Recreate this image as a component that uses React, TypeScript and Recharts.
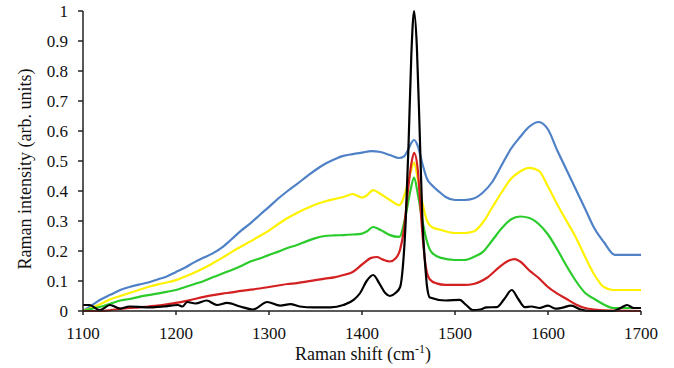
import React from "react";
import { LineChart, Line, XAxis, YAxis } from "recharts";

// [Raman shift, intensity] pairs per spectrum
const blue: [number, number][] = [
  [1100, 0], [1110, 0.02], [1120, 0.04], [1130, 0.055], [1140, 0.07], [1150, 0.08], [1160, 0.088],
  [1170, 0.095], [1180, 0.105], [1190, 0.115], [1200, 0.13], [1210, 0.145], [1220, 0.163], [1230, 0.178],
  [1240, 0.193], [1250, 0.213], [1260, 0.24], [1270, 0.268], [1280, 0.292], [1290, 0.32], [1300, 0.347],
  [1310, 0.375], [1320, 0.4], [1330, 0.423], [1340, 0.447], [1350, 0.47], [1360, 0.49], [1370, 0.505],
  [1380, 0.517], [1390, 0.523], [1400, 0.528], [1410, 0.533], [1420, 0.53], [1430, 0.52], [1440, 0.51],
  [1445, 0.515], [1450, 0.54], [1453, 0.56], [1456, 0.57], [1460, 0.55], [1465, 0.49], [1470, 0.44],
  [1475, 0.42], [1484, 0.395], [1490, 0.38], [1500, 0.37], [1510, 0.37], [1520, 0.375], [1530, 0.395],
  [1540, 0.43], [1550, 0.485], [1560, 0.54], [1570, 0.58], [1580, 0.615], [1590, 0.63], [1600, 0.605],
  [1610, 0.535], [1620, 0.47], [1630, 0.405], [1640, 0.34], [1650, 0.275], [1660, 0.23], [1672, 0.187],
  [1685, 0.187], [1700, 0.187],
];

const yellow: [number, number][] = [
  [1100, 0], [1110, 0.012], [1120, 0.025], [1130, 0.04], [1140, 0.05], [1150, 0.06], [1160, 0.07],
  [1170, 0.08], [1180, 0.088], [1190, 0.095], [1200, 0.103], [1210, 0.115], [1220, 0.128], [1230, 0.143],
  [1240, 0.16], [1250, 0.178], [1260, 0.197], [1270, 0.215], [1280, 0.232], [1290, 0.25], [1300, 0.268],
  [1310, 0.29], [1320, 0.31], [1330, 0.327], [1340, 0.342], [1350, 0.355], [1360, 0.365], [1370, 0.373],
  [1380, 0.38], [1390, 0.39], [1400, 0.378], [1405, 0.385], [1412, 0.403], [1420, 0.39], [1430, 0.37],
  [1440, 0.353], [1447, 0.4], [1452, 0.46], [1456, 0.495], [1460, 0.44], [1465, 0.36], [1470, 0.3],
  [1475, 0.28], [1485, 0.27], [1500, 0.26], [1510, 0.26], [1520, 0.265], [1530, 0.295], [1540, 0.345],
  [1550, 0.395], [1560, 0.44], [1570, 0.465], [1580, 0.477], [1590, 0.468], [1600, 0.415], [1610, 0.355],
  [1620, 0.3], [1630, 0.245], [1640, 0.18], [1650, 0.12], [1660, 0.08], [1670, 0.07], [1700, 0.07],
];

const green: [number, number][] = [
  [1100, 0], [1110, 0.008], [1120, 0.015], [1130, 0.025], [1140, 0.035], [1150, 0.04], [1160, 0.047],
  [1170, 0.053], [1180, 0.058], [1190, 0.064], [1200, 0.07], [1210, 0.08], [1220, 0.09], [1230, 0.1],
  [1240, 0.113], [1250, 0.125], [1260, 0.137], [1270, 0.15], [1280, 0.165], [1290, 0.175], [1300, 0.187],
  [1310, 0.198], [1320, 0.21], [1330, 0.22], [1340, 0.232], [1350, 0.243], [1360, 0.25], [1370, 0.252],
  [1380, 0.253], [1390, 0.255], [1400, 0.258], [1405, 0.265], [1412, 0.28], [1420, 0.27], [1430, 0.253],
  [1440, 0.247], [1447, 0.32], [1452, 0.4], [1456, 0.445], [1460, 0.39], [1465, 0.3], [1470, 0.23],
  [1475, 0.195], [1485, 0.177], [1500, 0.17], [1510, 0.17], [1520, 0.18], [1530, 0.197], [1540, 0.235],
  [1550, 0.275], [1560, 0.305], [1570, 0.315], [1580, 0.31], [1590, 0.29], [1600, 0.255], [1610, 0.205],
  [1620, 0.15], [1630, 0.1], [1640, 0.06], [1650, 0.04], [1660, 0.022], [1670, 0.01], [1700, 0.01],
];

const red: [number, number][] = [
  [1100, 0], [1120, 0], [1130, 0.003], [1140, 0.007], [1150, 0.01], [1160, 0.012], [1170, 0.015],
  [1180, 0.018], [1190, 0.022], [1200, 0.027], [1210, 0.033], [1220, 0.04], [1230, 0.047], [1240, 0.053],
  [1250, 0.058], [1260, 0.062], [1270, 0.067], [1280, 0.071], [1290, 0.075], [1300, 0.08], [1310, 0.085],
  [1320, 0.09], [1330, 0.093], [1340, 0.098], [1350, 0.103], [1360, 0.108], [1370, 0.112], [1380, 0.12],
  [1390, 0.13], [1400, 0.155], [1410, 0.177], [1416, 0.18], [1422, 0.172], [1430, 0.165], [1436, 0.175],
  [1441, 0.205], [1445, 0.27], [1449, 0.39], [1453, 0.49], [1456, 0.527], [1460, 0.47], [1463, 0.34],
  [1466, 0.22], [1469, 0.14], [1473, 0.105], [1480, 0.092], [1490, 0.087], [1510, 0.087], [1520, 0.09],
  [1534, 0.11], [1548, 0.147], [1558, 0.168], [1564, 0.173], [1570, 0.165], [1580, 0.135], [1590, 0.11],
  [1600, 0.08], [1610, 0.058], [1620, 0.04], [1630, 0.022], [1640, 0.01], [1650, 0.005], [1660, 0.002],
  [1700, 0],
];

const black: [number, number][] = [
  [1100, 0.02], [1107, 0.02], [1118, 0.003], [1129, 0.02], [1140, 0.008], [1150, 0.015], [1168, 0.012],
  [1186, 0.015], [1202, 0.02], [1207, 0.015], [1212, 0.03], [1221, 0.025], [1233, 0.035], [1244, 0.02],
  [1255, 0.027], [1269, 0.015], [1283, 0.005], [1298, 0.03], [1312, 0.018], [1323, 0.023], [1333, 0.015],
  [1348, 0.012], [1366, 0.012], [1380, 0.02], [1391, 0.037], [1398, 0.06], [1405, 0.1], [1412, 0.12],
  [1419, 0.09], [1425, 0.06], [1430, 0.05], [1436, 0.06], [1441, 0.08], [1444, 0.15], [1447, 0.3],
  [1450, 0.55], [1453, 0.85], [1456, 1.0], [1459, 0.88], [1462, 0.6], [1465, 0.3], [1468, 0.15],
  [1470, 0.08], [1473, 0.045], [1490, 0.035], [1505, 0.037], [1512, 0.02], [1519, 0.003], [1527, 0.005],
  [1534, 0.012], [1545, 0.013], [1553, 0.04], [1561, 0.07], [1568, 0.04], [1575, 0.013], [1582, 0.015],
  [1591, 0.01], [1600, 0.018], [1608, 0.008], [1614, 0.01], [1625, 0.018], [1635, 0.005], [1645, 0],
  [1670, 0], [1678, 0.01], [1685, 0.02], [1692, 0.01], [1700, 0.01],
];

const xTicks = [1100, 1200, 1300, 1400, 1500, 1600, 1700];
const yTicks = [0, 0.1, 0.2, 0.3, 0.4, 0.5, 0.6, 0.7, 0.8, 0.9, 1];

const toRows = (pairs: [number, number][]) => pairs.map(([x, y]) => ({ x, y }));

const series = [
  { name: "blue", data: toRows(blue), color: "#4F81C7" },
  { name: "yellow", data: toRows(yellow), color: "#FFF200" },
  { name: "green", data: toRows(green), color: "#2BCB2B" },
  { name: "red", data: toRows(red), color: "#D42020" },
  { name: "black", data: toRows(black), color: "#000000" },
];

const FONT = "'Liberation Serif', 'Times New Roman', serif";

export default function App() {
  return (
    <div style={{ position: "absolute", left: 0, top: 0, width: 674, height: 368, background: "#fff" }}>
      <LineChart width={674} height={368} margin={{ top: 11, right: 33, left: 0, bottom: 0 }}>
        <XAxis
          type="number"
          dataKey="x"
          domain={[1100, 1700]}
          ticks={xTicks}
          allowDataOverflow
          height={57}
          stroke="#222"
          strokeWidth={1.5}
          tickSize={4}
          tickMargin={12}
          tick={{ fill: "#111", fontSize: 17, fontFamily: FONT }}
          label={{
            content: () => (
              <text x={363} y={360} textAnchor="middle" fill="#111" fontSize={18} fontFamily={FONT}>
                Raman shift (cm
                <tspan dy={-7} fontSize={12}>-1</tspan>
                <tspan dy={7}>)</tspan>
              </text>
            ),
          }}
        />
        <YAxis
          type="number"
          domain={[0, 1]}
          ticks={yTicks}
          width={83}
          stroke="#222"
          strokeWidth={1.5}
          tickSize={5}
          tickMargin={10}
          tick={{ fill: "#111", fontSize: 17, fontFamily: FONT }}
          label={{
            content: () => (
              <text
                x={25}
                y={169}
                textAnchor="middle"
                dominantBaseline="central"
                transform="rotate(-90 25 169)"
                fill="#111"
                fontSize={18}
                fontFamily={FONT}
              >
                Raman intensity (arb. units)
              </text>
            ),
          }}
        />
        {series.map((s) => (
          <Line
            key={s.name}
            data={s.data}
            dataKey="y"
            type="monotone"
            stroke={s.color}
            strokeWidth={2.2}
            dot={false}
            activeDot={false}
            isAnimationActive={false}
          />
        ))}
      </LineChart>
    </div>
  );
}
